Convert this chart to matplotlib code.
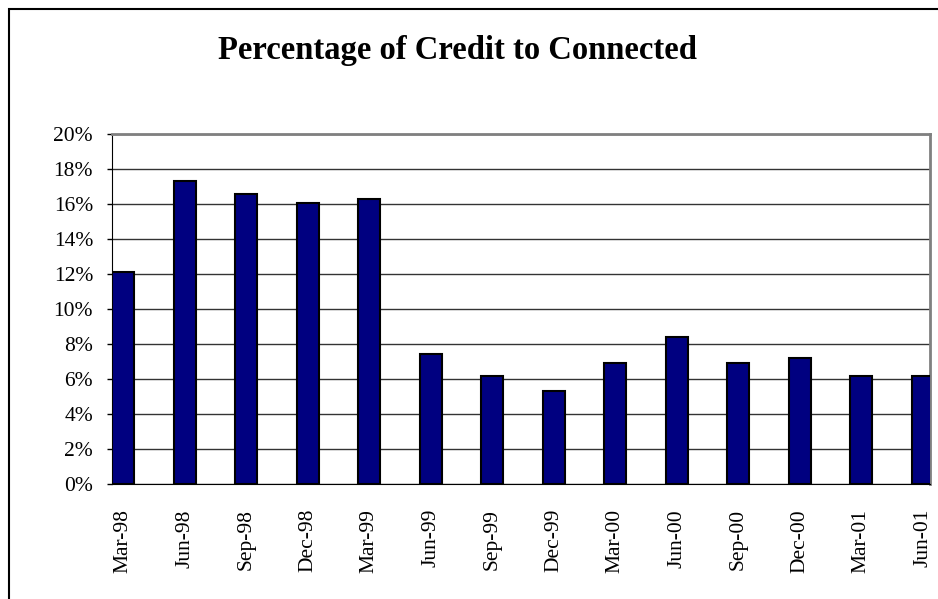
import matplotlib.pyplot as plt
from matplotlib.patches import Rectangle

# quarterly share of credit going to connected parties
quarters = ["Mar-98", "Jun-98", "Sep-98", "Dec-98", "Mar-99", "Jun-99", "Sep-99",
            "Dec-99", "Mar-00", "Jun-00", "Sep-00", "Dec-00", "Mar-01", "Jun-01"]
share = [12.1, 17.3, 16.6, 16.05, 16.3, 7.45, 6.2,
         5.3, 6.9, 8.4, 6.9, 7.2, 6.2, 6.2]
yticks = list(range(0, 21, 2))

plt.rcParams["font.family"] = ["Liberation Serif", "DejaVu Serif"]

fig = plt.figure(figsize=(9.38, 5.99), dpi=100)
ax = fig.add_axes([112 / 938, 1 - 484 / 599, 818 / 938, 350 / 599])

x = list(range(len(quarters)))
ax.bar(x, share, width=0.36, color="#000080", edgecolor="black", linewidth=1.5, zorder=3)

ax.set_ylim(0, 20)
ax.set_xlim(-0.18, 13.12)
ax.set_yticks(yticks)
ax.set_yticklabels([f"{v}%" for v in yticks], fontsize=15.5)
ax.set_xticks(x)
ax.set_xticklabels(quarters, rotation=90, fontsize=15.5)
ax.tick_params(axis="x", length=0, pad=18)
ax.tick_params(axis="y", length=3.6, width=1, direction="out", pad=10)

ax.yaxis.grid(True, color="#333333", linewidth=1.0)
ax.set_axisbelow(True)
for side in ["top", "right"]:
    ax.spines[side].set_color("#808080")
    ax.spines[side].set_linewidth(2)
ax.spines["left"].set_color("black")
ax.spines["bottom"].set_color("black")

fig.text(457 / 938, 1 - 50 / 599, "Percentage of Credit to Connected",
         ha="center", va="center", fontsize=23.5, fontweight="bold")

# outer chart frame
fig.patches.append(Rectangle((9 / 938, -0.1), 1.1, 1 - 9 / 599 + 0.1,
                             transform=fig.transFigure, fill=False,
                             edgecolor="black", linewidth=1.5))

fig.savefig("out.png", dpi=100)
